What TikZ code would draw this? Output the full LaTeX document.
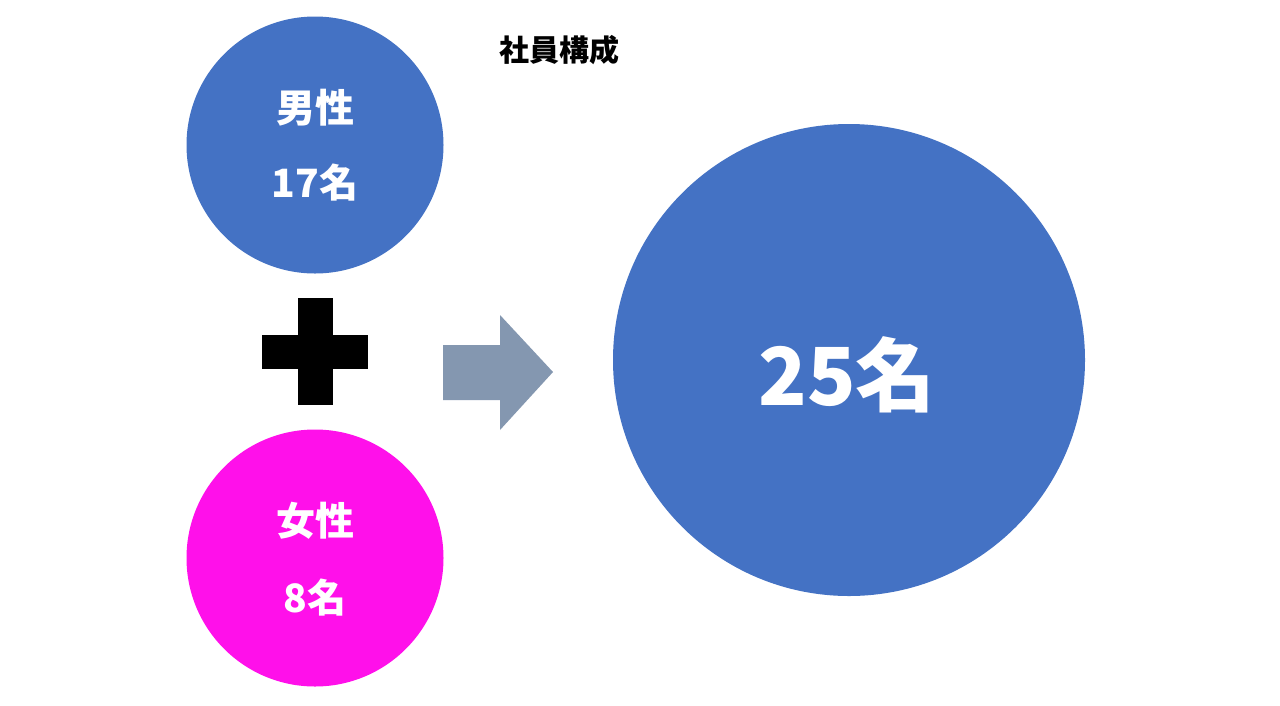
\documentclass[tikz,border=0pt]{standalone}
\usepackage{fontspec}
\newfontfamily\cjk{Noto Sans CJK JP}
\definecolor{mblue}{HTML}{4472C4}
\definecolor{mpink}{HTML}{FF10EA}
\definecolor{marrow}{HTML}{8497B0}
\begin{document}
\begin{tikzpicture}[x=1pt,y=-1pt,
  circ/.style={circle,inner sep=0pt},
  wtext/.style={text=white,font=\cjk\bfseries\fontsize{39}{46}\selectfont,align=center,inner sep=0pt},
]
\useasboundingbox (0,0) rectangle (1280,705);
\fill[white] (0,0) rectangle (1280,705);
% title
\node[font=\cjk\bfseries\fontsize{30}{34}\selectfont,inner sep=0pt] (title) at (559,50) {社員構成};
% circles
\node[circ,fill=mblue,minimum size=257pt] (male) at (315,145) {};
\node[circ,fill=mpink,minimum size=257pt] (female) at (315,558) {};
\node[circ,fill=mblue,minimum size=472pt] (total) at (849,360) {};
% texts
\node[wtext] (m1) at (315,108) {男性};
\node[wtext] (m2) at (315,183) {17名};
\node[wtext] (f1) at (315,521) {女性};
\node[wtext] (f2) at (315,598) {8名};
\node[text=white,font=\cjk\bfseries\fontsize{80}{90}\selectfont,inner sep=0pt] (t) at (847,375) {25名};
% plus
\fill[black] (262,335) rectangle (368,369);
\fill[black] (298,298) rectangle (333,405);
% arrow
\fill[marrow] (443,345) -- (500,345) -- (500,315) -- (553,372) -- (500,430) -- (500,400) -- (443,400) -- cycle;
\end{tikzpicture}
\end{document}
